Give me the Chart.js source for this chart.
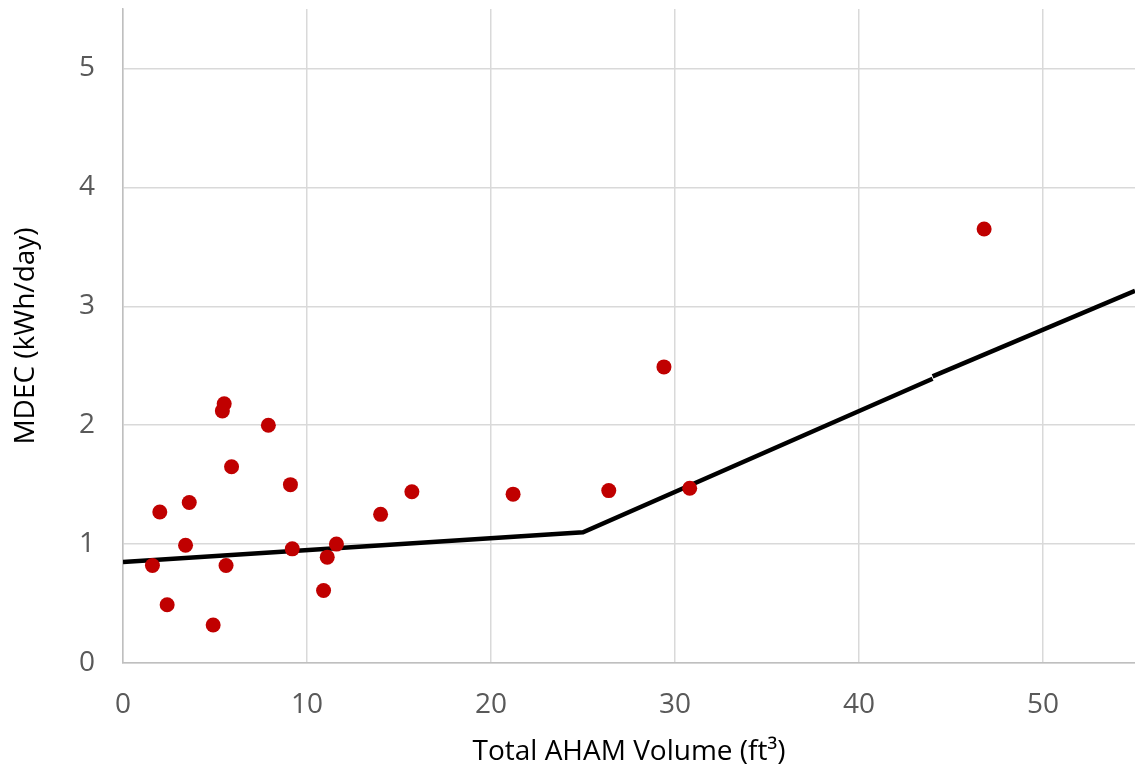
<!DOCTYPE html>
<html>
<head>
<meta charset="utf-8">
<script src="https://cdn.jsdelivr.net/npm/chart.js@4.4.1/dist/chart.umd.min.js"></script>
<style>
  html, body { margin: 0; padding: 0; background: #fff; overflow: hidden; }
  canvas { display: block; }
</style>
</head>
<body>
<canvas id="chart" width="1135" height="769"></canvas>
<script>
// measured units (volume ft3, MDEC kWh/day)
const volume = [1.6, 2.0, 2.4, 3.4, 3.6, 4.9, 5.4, 5.5, 5.6, 5.9, 7.9, 9.1, 9.2, 10.9, 11.1, 11.6, 14.0, 15.7, 21.2, 26.4, 29.4, 30.8, 46.8];
const mdec   = [0.82, 1.27, 0.49, 0.99, 1.35, 0.32, 2.12, 2.18, 0.82, 1.65, 2.00, 1.50, 0.96, 0.61, 0.89, 1.00, 1.25, 1.44, 1.42, 1.45, 2.49, 1.47, 3.65];

// standard line, two pieces
const stdX1 = [0, 25, 44];
const stdY1 = [0.85, 1.10, 2.39];
const stdX2 = [44, 55];
const stdY2 = [2.41, 3.13];

const xTicks = [0, 10, 20, 30, 40, 50];
const yTicks = [0, 1, 2, 3, 4, 5];

const pts = (xs, ys) => xs.map((x, i) => ({x: x, y: ys[i]}));

const fontFam = "'Open Sans', 'Liberation Sans', sans-serif";

// drop the extra room chart.js keeps for edge labels
function noPad(axis) {
  axis.paddingTop = 0;
  axis.paddingBottom = 0;
  axis.paddingLeft = 0;
  axis.paddingRight = 0;
}

new Chart(document.getElementById("chart").getContext("2d"), {
  type: "scatter",
  data: {
    datasets: [
      {
        label: "Standard",
        type: "line",
        data: pts(stdX1, stdY1),
        borderColor: "#000",
        borderWidth: 4.5,
        pointRadius: 0,
        fill: false,
        order: 2
      },
      {
        label: "Standard 2",
        type: "line",
        data: pts(stdX2, stdY2),
        borderColor: "#000",
        borderWidth: 4.5,
        pointRadius: 0,
        fill: false,
        order: 2
      },
      {
        label: "Units",
        data: pts(volume, mdec),
        backgroundColor: "#C00000",
        borderColor: "#C00000",
        borderWidth: 0,
        pointRadius: 7.5,
        pointHoverRadius: 7.5,
        order: 1
      }
    ]
  },
  options: {
    responsive: false,
    animation: false,
    layout: { autoPadding: false, padding: { top: 9, right: 0, left: 0, bottom: 0 } },
    plugins: { legend: { display: false }, tooltip: { enabled: false } },
    scales: {
      x: {
        type: "linear",
        min: 0,
        max: 55,
        afterBuildTicks: (axis) => { axis.ticks = xTicks.map(v => ({value: v})); },
        afterFit: (axis) => { axis.height = 106; noPad(axis); },
        grid: { color: "#d9d9d9", lineWidth: 1.5, drawTicks: false },
        border: { color: "#bfbfbf", width: 1.5 },
        ticks: { color: "#595959", font: { family: fontFam, size: 28 }, padding: 25, maxRotation: 0 },
        title: {
          display: true,
          text: "Total AHAM Volume (ft³)",
          color: "#000",
          font: { family: fontFam, size: 28 },
          padding: { top: 0, bottom: 0 }
        }
      },
      y: {
        type: "linear",
        min: 0,
        max: 5.5,
        afterBuildTicks: (axis) => { axis.ticks = yTicks.map(v => ({value: v})); },
        afterFit: (axis) => { axis.width = 123; noPad(axis); },
        grid: { color: "#d9d9d9", lineWidth: 1.5, drawTicks: false },
        border: { color: "#bfbfbf", width: 1.5 },
        ticks: { color: "#595959", font: { family: fontFam, size: 28 }, padding: 28 },
        title: {
          display: true,
          text: "MDEC (kWh/day)",
          color: "#000",
          font: { family: fontFam, size: 28 },
          padding: { top: 9, bottom: 0 }
        }
      }
    }
  }
});
</script>
</body>
</html>
